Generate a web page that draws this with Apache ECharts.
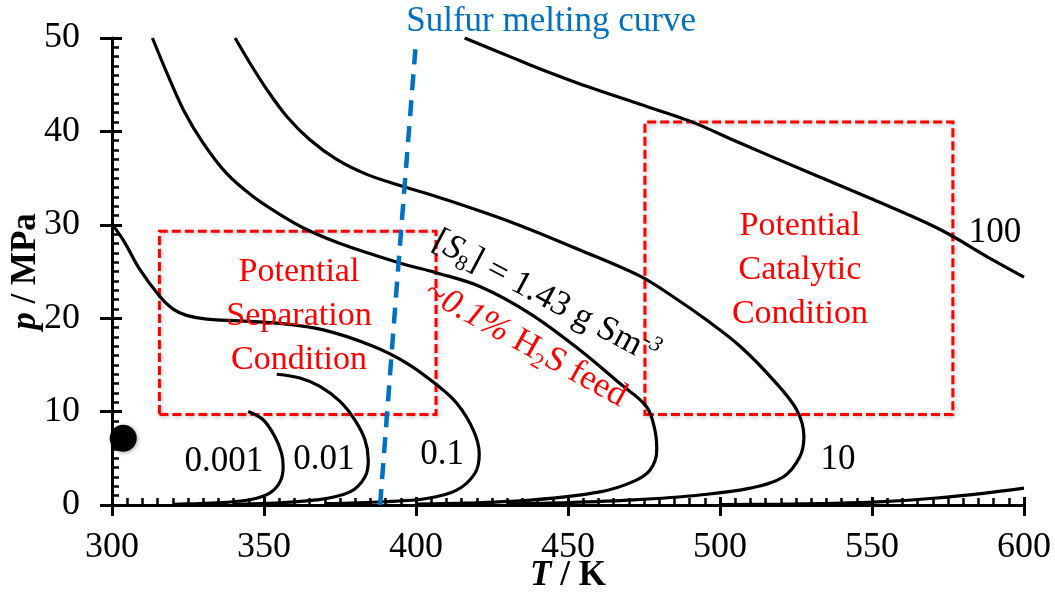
<!DOCTYPE html>
<html>
<head>
<meta charset="utf-8">
<script src="https://cdn.jsdelivr.net/npm/echarts@6/dist/echarts.min.js"></script>
<style>
  html, body { margin: 0; padding: 0; background: #fff; }
  #chart { width: 1055px; height: 594px; }
</style>
</head>
<body>
<div id="chart"></div>
<script>
// [S8] contours, T in K and p in MPa
var c0001 = [[344.8,10.0],[349.8,9.1],[353.6,7.3],[355.8,5.5],[356.3,4.1],[355.3,2.5],[352,1.3],[346.5,0.64],[337.7,0.28],[327.9,0.15],[320,0.08]];
var c001 = [[354.2,14.0],[361.8,13.6],[368.4,12.7],[375,11.1],[379.9,9.1],[383.2,7.0],[384.3,4.8],[383.2,3.0],[378.3,1.4],[367.3,0.54],[350.9,0.18],[340,0.08]];
var c01 = [[300,30.1],[304,28.2],[309.2,25.2],[315.8,22.3],[320,21.0],[324.5,20.3],[331.2,19.9],[353.1,19.5],[369.5,18.75],[385.9,17.0],[396.9,15.2],[406.3,13.0],[413.4,10.9],[418.9,8.0],[420.8,5.5],[419.4,3.4],[413.4,1.6],[403.5,0.7],[389.2,0.35],[370,0.15]];
var c143 = [[313.3,50],[318.0,46.3],[323.5,42.3],[330.0,38.75],[337.7,35.5],[346.5,33.0],[355.3,31.1],[364.0,29.5],[375.0,28.0],[386.0,26.8],[396.9,25.7],[406.3,24.9],[421,23.4],[437.5,20.5],[453.9,16.6],[467.1,13.0],[475.9,10.5],[478.6,8.0],[479.2,5.9],[477,3.75],[471.4,2.5],[460.5,1.4],[438.5,0.54],[416.7,0.2],[400,0.1]];
var c10 = [[340.5,50],[345.4,47.3],[350.9,44.5],[357.5,41.6],[365.1,39.1],[373.9,37.0],[383.8,35.4],[395.8,34.1],[407.9,32.9],[432,30.2],[453.9,27.3],[473.7,24.5],[484.6,22.3],[495.6,19.8],[506.6,17.0],[517.5,13.4],[525.2,10.2],[527.6,7.3],[526.3,5.2],[520.8,3.0],[509.9,1.8],[493.4,1.07],[471.5,0.54],[450,0.25],[430,0.1]];
var c100 = [[416,50],[431.7,47.9],[440,46.8],[456.4,44.8],[473.7,42.9],[490.1,41.1],[506.6,38.75],[528.5,35.7],[550.4,32.7],[572.4,29.5],[589.4,26.3],[600,24.4]];
var c100low = [[500,0.05],[520,0.1],[537.3,0.18],[553.7,0.36],[570.2,0.72],[586.6,1.25],[600,1.8]];
var meltCurve = [[388.2,0],[393.8,24],[399.8,48.8]];

var valueLabels = ['0.001', '0.01', '0.1', '10', '100'];
var valueLabelPos = [[336.8,4.6],[369.7,4.8],[408.6,5.4],[538.8,4.8],[590.5,29.1]];

var sepBox = [[315.6,9.7],[406.6,29.3]];
var catBox = [[475.3,9.7],[576.6,41.0]];
var sepText = [361.5,20.25];
var catText = [526.3,25.2];
var s8TextPos = [442.6,22.2];
var feedTextPos = [436.0,17.2];
var meltTextPos = [396.8,51.75];
var dotPoint = [[303.7,7.15]];

var xTicks = { min: 300, max: 600, interval: 50 };
var yTicks = { min: 0, max: 50, interval: 10 };

var font = 'Liberation Serif';
var chart = echarts.init(document.getElementById('chart'));

function curve(name, data) {
  return {
    name: name, type: 'line', data: data, showSymbol: false, smooth: 0.35,
    lineStyle: { color: '#000', width: 3.2 }, z: 3, silent: true
  };
}

function note(pos, text, style) {
  return {
    value: pos,
    label: Object.assign({ show: true, position: 'inside', formatter: text,
      fontFamily: font, fontSize: 35, color: '#000' }, style || {})
  };
}

var notes = valueLabels.map(function (t, i) { return note(valueLabelPos[i], t); });
notes.push(note(sepText, 'Potential\nSeparation\nCondition', { color: '#ff0000', fontSize: 34, lineHeight: 44, align: 'center' }));
notes.push(note(catText, 'Potential\nCatalytic\nCondition', { color: '#ff0000', fontSize: 34, lineHeight: 44, align: 'center' }));
notes.push(note(meltTextPos, 'Sulfur melting curve', { color: '#0070c0', fontSize: 35, align: 'left' }));
notes.push(note(s8TextPos, '[{i|S}{sub|8}] = 1.43 g Sm{sup|-3}', {
  rotate: -28, fontSize: 35, lineHeight: 42,
  rich: {
    i: { fontFamily: font, fontSize: 35, fontStyle: 'italic', color: '#000', lineHeight: 42 },
    sub: { fontFamily: font, fontSize: 22, color: '#000', verticalAlign: 'bottom', lineHeight: 23 },
    sup: { fontFamily: font, fontSize: 22, fontStyle: 'italic', color: '#000', verticalAlign: 'top', lineHeight: 23 }
  }
}));
notes.push(note(feedTextPos, '~{i|0.1%} H{sub|2}S feed', {
  rotate: -29, fontSize: 35, color: '#ff0000', lineHeight: 42,
  rich: {
    i: { fontFamily: font, fontSize: 35, fontStyle: 'italic', color: '#ff0000', lineHeight: 42 },
    sub: { fontFamily: font, fontSize: 22, color: '#ff0000', verticalAlign: 'bottom', lineHeight: 23 }
  }
}));

var option = {
  backgroundColor: '#fff',
  animation: false,
  grid: { left: 112, right: 31, top: 38, bottom: 89, outerBoundsMode: 'none', containLabel: false },
  xAxis: [{
    type: 'value', min: xTicks.min, max: xTicks.max, interval: xTicks.interval,
    position: 'bottom', splitLine: { show: false },
    axisLine: { lineStyle: { color: '#000', width: 3 } },
    axisTick: { inside: false, length: 11, lineStyle: { color: '#000', width: 3 } },
    axisLabel: { color: '#000', fontFamily: font, fontSize: 36, margin: 25 },
    name: '{i|T} / K', nameLocation: 'middle', nameGap: 53, nameMoveOverlap: false,
    nameTextStyle: { color: '#000', fontFamily: font, fontSize: 35, fontWeight: 'bold',
      rich: { i: { fontFamily: font, fontSize: 35, fontWeight: 'bold', fontStyle: 'italic', color: '#000' } } }
  }, {
    type: 'value', min: xTicks.min, max: xTicks.max, interval: xTicks.interval,
    position: 'bottom', splitLine: { show: false }, axisLabel: { show: false },
    axisLine: { show: false },
    axisTick: { inside: true, length: 8, lineStyle: { color: '#000', width: 3 } },
    minorTick: { show: true, splitNumber: 10, length: 7, lineStyle: { color: '#000', width: 2.5 } }
  }],
  yAxis: [{
    type: 'value', min: yTicks.min, max: yTicks.max, interval: yTicks.interval,
    position: 'left', splitLine: { show: false },
    axisLine: { lineStyle: { color: '#000', width: 3 } },
    axisTick: { inside: false, length: 12, lineStyle: { color: '#000', width: 3 } },
    axisLabel: { color: '#000', fontFamily: font, fontSize: 36, margin: 32 },
    name: '{i|p} / MPa', nameLocation: 'middle', nameGap: 69, nameMoveOverlap: false,
    nameTextStyle: { color: '#000', fontFamily: font, fontSize: 35, fontWeight: 'bold',
      rich: { i: { fontFamily: font, fontSize: 35, fontWeight: 'bold', fontStyle: 'italic', color: '#000' } } }
  }, {
    type: 'value', min: yTicks.min, max: yTicks.max, interval: yTicks.interval,
    position: 'left', offset: 0, splitLine: { show: false }, axisLabel: { show: false },
    axisLine: { show: false },
    axisTick: { inside: true, length: 10, lineStyle: { color: '#000', width: 3 } },
    minorTick: { show: true, splitNumber: 10, length: 7, lineStyle: { color: '#000', width: 2.5 } }
  }],
  series: [
    curve('0.001', c0001),
    curve('0.01', c001),
    curve('0.1', c01),
    curve('1.43', c143),
    curve('10', c10),
    curve('100', c100),
    curve('100 low', c100low),
    {
      name: 'melt', type: 'line', data: meltCurve, showSymbol: false, z: 4, silent: true,
      lineStyle: { color: '#0070c0', width: 4.5, type: [16, 10] },
      markArea: {
        silent: true,
        itemStyle: { color: 'rgba(255,255,255,0)', opacity: 1, borderColor: '#ff0000', borderWidth: 3,
          borderType: [9, 4], shadowBlur: 4, shadowColor: 'rgba(0,0,0,0.3)', shadowOffsetX: 1, shadowOffsetY: 1 },
        data: [
          [{ coord: sepBox[0] }, { coord: sepBox[1] }],
          [{ coord: catBox[0] }, { coord: catBox[1] }]
        ]
      }
    },
    {
      name: 'dot', type: 'scatter', data: dotPoint, symbolSize: 27, z: 5, silent: true,
      itemStyle: { color: '#000', opacity: 1, shadowBlur: 4, shadowColor: 'rgba(0,0,0,0.35)', shadowOffsetX: 1, shadowOffsetY: 1 }
    },
    {
      name: 'notes', type: 'scatter', data: notes, symbolSize: 0, z: 6, silent: true, clip: false,
      itemStyle: { opacity: 1 }
    }
  ]
};
chart.setOption(option);
</script>
</body>
</html>
